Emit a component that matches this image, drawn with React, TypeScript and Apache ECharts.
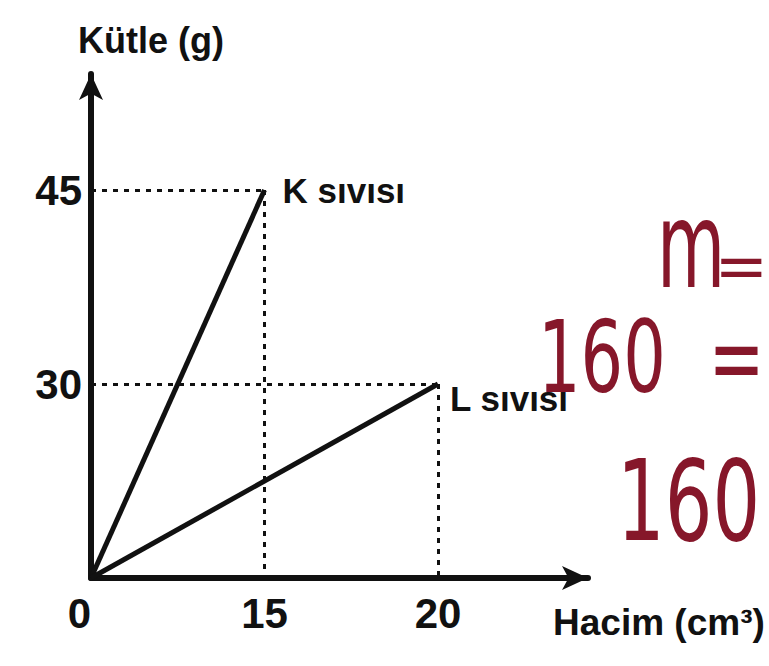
import React, { useEffect, useRef } from "react";
import * as echarts from "echarts";

// Axis tick values (the sketch is schematic, so ticks are placed as ordered steps)
const volumeTicks = ["0", "15", "20"];
const massTicks = ["0", "30", "45"];

// Liquids: name, volume (cm³), mass (g)
const liquidNames = ["K sıvısı", "L sıvısı"];
const liquidVolumes = [15, 20];
const liquidMasses = [45, 30];
const labelDrops = [0, 14];
const labelGaps = [18, 12];

// Handwritten notes beside the graph
const noteLines = ["m", "=", "160  =", "160"];

const INK = "#111111";
const RED = "#86172a";
const FONT = "'Liberation Sans', Arial, sans-serif";
const HAND = "'DejaVu Sans', sans-serif";

export default function App() {
  const ref = useRef<HTMLDivElement>(null);

  useEffect(() => {
    document.body.style.margin = "0";
    if (!ref.current) return;
    const chart = echarts.init(ref.current, undefined, { renderer: "svg" });

    const series = liquidNames.map((name, i) => {
      const xi = volumeTicks.indexOf(String(liquidVolumes[i]));
      const yi = massTicks.indexOf(String(liquidMasses[i]));
      return {
        type: "line",
        name,
        xAxisIndex: 0,
        yAxisIndex: 0,
        data: [
          [0, 0],
          [xi, yi],
        ],
        symbol: "none",
        lineStyle: { color: INK, width: 5 },
        z: 3,
        endLabel: {
          show: true,
          formatter: name,
          color: INK,
          fontFamily: FONT,
          fontWeight: "bold",
          fontSize: 35,
          distance: labelGaps[i],
          offset: [0, labelDrops[i]],
        },
        markLine: {
          silent: true,
          symbol: ["none", "none"],
          label: { show: false },
          lineStyle: { color: INK, width: 3, type: [5, 6] },
          data: [
            [{ coord: [0, yi] }, { coord: [xi, yi] }],
            [{ coord: [xi, yi] }, { coord: [xi, 0] }],
          ],
        },
      };
    });

    const hidden = {
      axisTick: { show: false },
      splitLine: { show: false },
    };

    const arrowAxis = {
      type: "value",
      gridIndex: 1,
      min: 0,
      max: 1,
      ...hidden,
      axisLabel: { show: false },
      axisLine: {
        show: true,
        symbol: ["none", "arrow"],
        symbolSize: [18, 26],
        lineStyle: { color: INK, width: 6 },
      },
    };

    const noteText = (
      text: string,
      x: number,
      y: number,
      size: number,
      scaleY: number,
      align: string = "left"
    ) => ({
      type: "text",
      x,
      y,
      scaleY,
      style: {
        text,
        fill: RED,
        font: `${size}px ${HAND}`,
        textAlign: align,
        textVerticalAlign: "middle",
      },
    });

    chart.setOption({
      animation: false,
      backgroundColor: "#ffffff",
      grid: [
        { left: 91, right: 331, top: 190, bottom: 88 },
        { left: 91, right: 181, top: 74, bottom: 88 },
      ],
      xAxis: [
        {
          type: "category",
          gridIndex: 0,
          data: volumeTicks,
          boundaryGap: false,
          axisLine: { show: false },
          ...hidden,
          axisLabel: {
            color: INK,
            fontFamily: FONT,
            fontWeight: "bold",
            fontSize: 42,
            margin: 14,
            interval: 0,
            alignMinLabel: "right",
          },
        },
        arrowAxis,
      ],
      yAxis: [
        {
          type: "category",
          gridIndex: 0,
          data: massTicks,
          boundaryGap: false,
          axisLine: { show: false },
          ...hidden,
          axisLabel: {
            color: INK,
            fontFamily: FONT,
            fontWeight: "bold",
            fontSize: 42,
            margin: 9,
            interval: 0,
            formatter: (v: string, idx: number) => (idx === 0 ? "" : v),
          },
        },
        arrowAxis,
      ],
      graphic: [
        {
          type: "text",
          x: 78,
          y: 40,
          style: {
            text: "Kütle (g)",
            fill: INK,
            font: `bold 36px ${FONT}`,
            textAlign: "left",
            textVerticalAlign: "middle",
          },
        },
        {
          type: "text",
          x: 553,
          y: 622,
          style: {
            text: "Hacim (cm³)",
            fill: INK,
            font: `bold 37px ${FONT}`,
            textAlign: "left",
            textVerticalAlign: "middle",
          },
        },
        noteText(noteLines[0], 657, 246, 70, 1.7),
        noteText(noteLines[1], 768, 266, 64, 1.0, "right"),
        noteText(noteLines[2], 538, 357, 67, 1.5),
        noteText(noteLines[3], 617, 501, 75, 1.5),
      ],
      series,
    });

    return () => chart.dispose();
  }, []);

  return <div ref={ref} style={{ width: 769, height: 666 }} />;
}
